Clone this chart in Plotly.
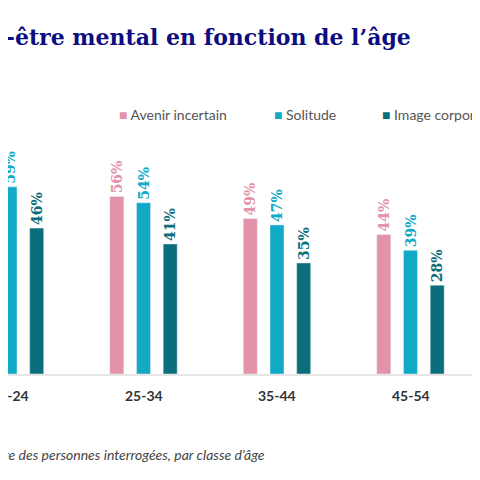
import plotly.graph_objects as go

categories = ["18-24", "25-34", "35-44", "45-54", "55+"]
avenir = [62, 56, 49, 44, 38]
solitude = [59, 54, 47, 39, 33]
image = [46, 41, 35, 28, 22]
series = [("Avenir incertain", avenir, "#e293a8"),
          ("Solitude", solitude, "#10aac6"),
          ("Image corporelle", image, "#0c6e7c")]

O = 8  # page body margin offset
fig = go.Figure()
for name, vals, col in series:
    fig.add_bar(x=list(range(len(categories))), y=vals, name=name, marker_color=col,
                text=[f"<b>{v}%</b>" for v in vals], textposition="outside", textangle=-90,
                constraintext="none",
                textfont=dict(family="DejaVu Serif", size=14, color=col),
                cliponaxis=False, showlegend=False)

H = 314
fig.update_layout(
    width=480, height=480, margin=dict(l=0, r=0, t=60 - O, b=480 - (374 - O) ),
    paper_bgcolor="white", plot_bgcolor="white",
    barmode="group", bargap=0.4, bargroupgap=0.475,
    xaxis=dict(range=[-(10 - O) / 133.5, (480 - (10 - O)) / 133.5], showgrid=False,
               showline=True, linecolor="#e6e6e6", linewidth=2, showticklabels=False, ticks=""),
    yaxis=dict(range=[0, 99], visible=False),
    font=dict(family="Lato"),
)
for i, c in enumerate(categories):
    fig.add_annotation(x=i, xref="x", yref="paper", y=-(395 - 374) / H, yanchor="middle",
                       text=f"<b>{c}</b>", showarrow=False,
                       font=dict(family="Lato", size=14, color="#333"))
fig.add_annotation(xref="paper", yref="paper", x=(413 - O) / 480, y=(374 - 37) / H, xanchor="right", yanchor="middle",
                   text="<b>Impact sur le bien-être mental en fonction de l’âge</b>", showarrow=False,
                   font=dict(family="DejaVu Serif", size=22, color="#0d0d80"))
legx = [117, 272, 380]
for (name, vals, col), px in zip(series, legx):
    fig.add_annotation(xref="paper", yref="paper", x=(px - O) / 480, y=(374 - 115) / H, xanchor="left", yanchor="middle",
                       text=f"<span style='color:{col}'>■</span> {name}", showarrow=False,
                       font=dict(family="Lato", size=14, color="#555"))
fig.add_annotation(xref="paper", yref="paper", x=(267 - O) / 480, y=(374 - 454) / H, xanchor="right", yanchor="middle",
                   text="<i>Pourcentage des personnes interrogées, par classe d’âge</i>", showarrow=False,
                   font=dict(family="Lato", size=14, color="#444"))
fig.write_html("out.html")
